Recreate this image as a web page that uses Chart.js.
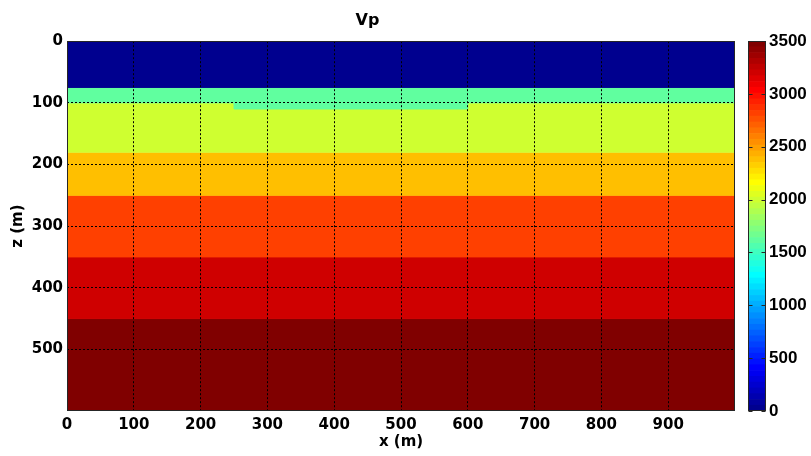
<!DOCTYPE html>
<html>
<head>
<meta charset="utf-8">
<script src="https://cdn.jsdelivr.net/npm/chart.js@4/dist/chart.umd.min.js"></script>
<style>
  body { margin: 0; background: #fff; }
  #wrap { position: relative; width: 811px; height: 456px; }
  #main { position: absolute; left: 0; top: 0; }
  #cbar { position: absolute; left: 740px; top: 0; }
</style>
</head>
<body>
<div id="wrap">
  <canvas id="main" width="811" height="456"></canvas>
  <canvas id="cbar" width="71" height="456"></canvas>
</div>
<script>
// layer model: bottom depth of each layer (m) at the x knots, stepped between knots
const xKnots = [0, 250, 600, 1000];
const layerBottoms = [
  [75, 75, 75, 75],
  [100, 110, 100, 100],
  [180, 180, 180, 180],
  [250, 250, 250, 250],
  [350, 350, 350, 350],
  [450, 450, 450, 450],
  [600, 600, 600, 600]
];
const layerVp = [0, 1600, 2000, 2400, 2800, 3200, 3500]; // m/s
const vpMin = 0, vpMax = 3500;
const xTicks = [0, 100, 200, 300, 400, 500, 600, 700, 800, 900];
const zTicks = [0, 100, 200, 300, 400, 500];
const cbarTicks = [0, 500, 1000, 1500, 2000, 2500, 3000, 3500];

const FONT = "'DejaVu Sans', 'Liberation Sans', sans-serif";
const NLEV = 64;

// matlab style jet(64), i = 0..63
function jet(i) {
  const f = v => Math.round(255 * Math.max(0, Math.min(1, v)));
  const r = f(Math.min((i - 23) / 16, (71 - i) / 16));
  const g = f(Math.min((i - 7) / 16, (55 - i) / 16));
  const b = f(Math.min((i + 9) / 16, (39 - i) / 16));
  return `rgb(${r},${g},${b})`;
}
function vpColor(v) {
  const i = Math.min(NLEV - 1, Math.floor((v - vpMin) / (vpMax - vpMin) * NLEV));
  return jet(i);
}

// box around plot area, plus short inward ticks on the colour bar
const boxPlugin = {
  id: 'box',
  afterDraw(chart, args, opts) {
    const a = chart.chartArea, ctx = chart.ctx;
    ctx.save();
    ctx.strokeStyle = '#262626';
    ctx.lineWidth = 1;
    const l = Math.round(a.left) + 0.5, r = Math.round(a.right) - 0.5;
    ctx.strokeRect(l, Math.round(a.top) + 0.5,
      r - l, Math.round(a.bottom - a.top) - 1);
    if (opts.inTicks) {
      const ys = chart.scales.y;
      ctx.beginPath();
      cbarTicks.forEach(v => {
        const py = Math.round(ys.getPixelForValue(v)) + 0.5;
        ctx.moveTo(l, py); ctx.lineTo(l + 4, py);
        ctx.moveTo(r, py); ctx.lineTo(r - 4, py);
      });
      ctx.stroke();
    }
    ctx.restore();
  }
};

const datasets = layerBottoms.map((bot, k) => ({
  data: xKnots.map((x, j) => ({ x: x, y: bot[j] })),
  stepped: 'before',
  fill: k === 0 ? { value: 0 } : '-1',
  backgroundColor: vpColor(layerVp[k]),
  borderColor: vpColor(layerVp[k]),
  borderWidth: 1,
  pointRadius: 0
}));

const gridOpts = {
  z: 1,
  color: c => (c.tick && c.tick.value === 0) ? 'rgba(0,0,0,0)' : '#000',
  lineWidth: 1,
  drawTicks: false
};
const tickFont = { family: FONT, size: 15, weight: 'bold' };

new Chart(document.getElementById('main'), {
  type: 'line',
  data: { datasets: datasets },
  options: {
    responsive: false,
    animation: false,
    events: [],
    layout: { padding: { left: 0, right: 76, top: 0, bottom: 0 } },
    plugins: {
      legend: { display: false },
      tooltip: { enabled: false },
      title: {
        display: true,
        text: 'Vp',
        color: '#000',
        font: { family: FONT, size: 16, weight: 'bold' },
        padding: { top: 11, bottom: 11 }
      },
      box: { inTicks: false }
    },
    scales: {
      x: {
        type: 'linear',
        min: 0, max: 1000,
        afterBuildTicks: s => { s.ticks = xTicks.map(v => ({ value: v })); },
        afterFit: s => { s.height = 45; },
        grid: gridOpts,
        border: { display: false, dash: [2, 2] },
        ticks: { color: '#000', padding: 5, autoSkip: false, maxRotation: 0,
          font: tickFont, callback: v => String(v) },
        title: { display: true, text: 'x (m)', color: '#000', font: tickFont,
          padding: { top: 0, bottom: 5 } }
      },
      y: {
        type: 'linear',
        reverse: true,
        min: 0, max: 600,
        afterBuildTicks: s => { s.ticks = zTicks.map(v => ({ value: v })); },
        afterFit: s => { s.width = 67; },
        grid: gridOpts,
        border: { display: false, dash: [2, 2] },
        ticks: { color: '#000', padding: 4, autoSkip: false,
          font: tickFont, callback: v => String(v) },
        title: { display: true, text: 'z (m)', color: '#000', font: tickFont,
          padding: { top: 9, bottom: 0 } }
      }
    }
  },
  plugins: [boxPlugin]
});

// colour bar: 64 stacked levels over vpMin..vpMax
const levStep = (vpMax - vpMin) / NLEV;
const cbarSets = [];
for (let i = 0; i < NLEV; i++) {
  cbarSets.push({
    data: [levStep],
    backgroundColor: jet(i),
    borderWidth: 0,
    barPercentage: 1,
    categoryPercentage: 1
  });
}

new Chart(document.getElementById('cbar'), {
  type: 'bar',
  data: { labels: [''], datasets: cbarSets },
  options: {
    responsive: false,
    animation: false,
    events: [],
    layout: { padding: { left: 8, right: 0, top: 41, bottom: 45 } },
    plugins: { legend: { display: false }, tooltip: { enabled: false },
      box: { inTicks: true } },
    scales: {
      x: { display: false, stacked: true },
      y: {
        position: 'right',
        stacked: true,
        min: vpMin, max: vpMax,
        afterBuildTicks: s => { s.ticks = cbarTicks.map(v => ({ value: v })); },
        afterFit: s => { s.width = 45; },
        grid: { display: false, drawTicks: false },
        border: { display: false },
        ticks: { color: '#000', padding: 3, callback: v => String(v),
          font: { family: "'Liberation Sans', Arial, sans-serif", size: 17, weight: 'bold' } }
      }
    }
  },
  plugins: [boxPlugin]
});
</script>
</body>
</html>
